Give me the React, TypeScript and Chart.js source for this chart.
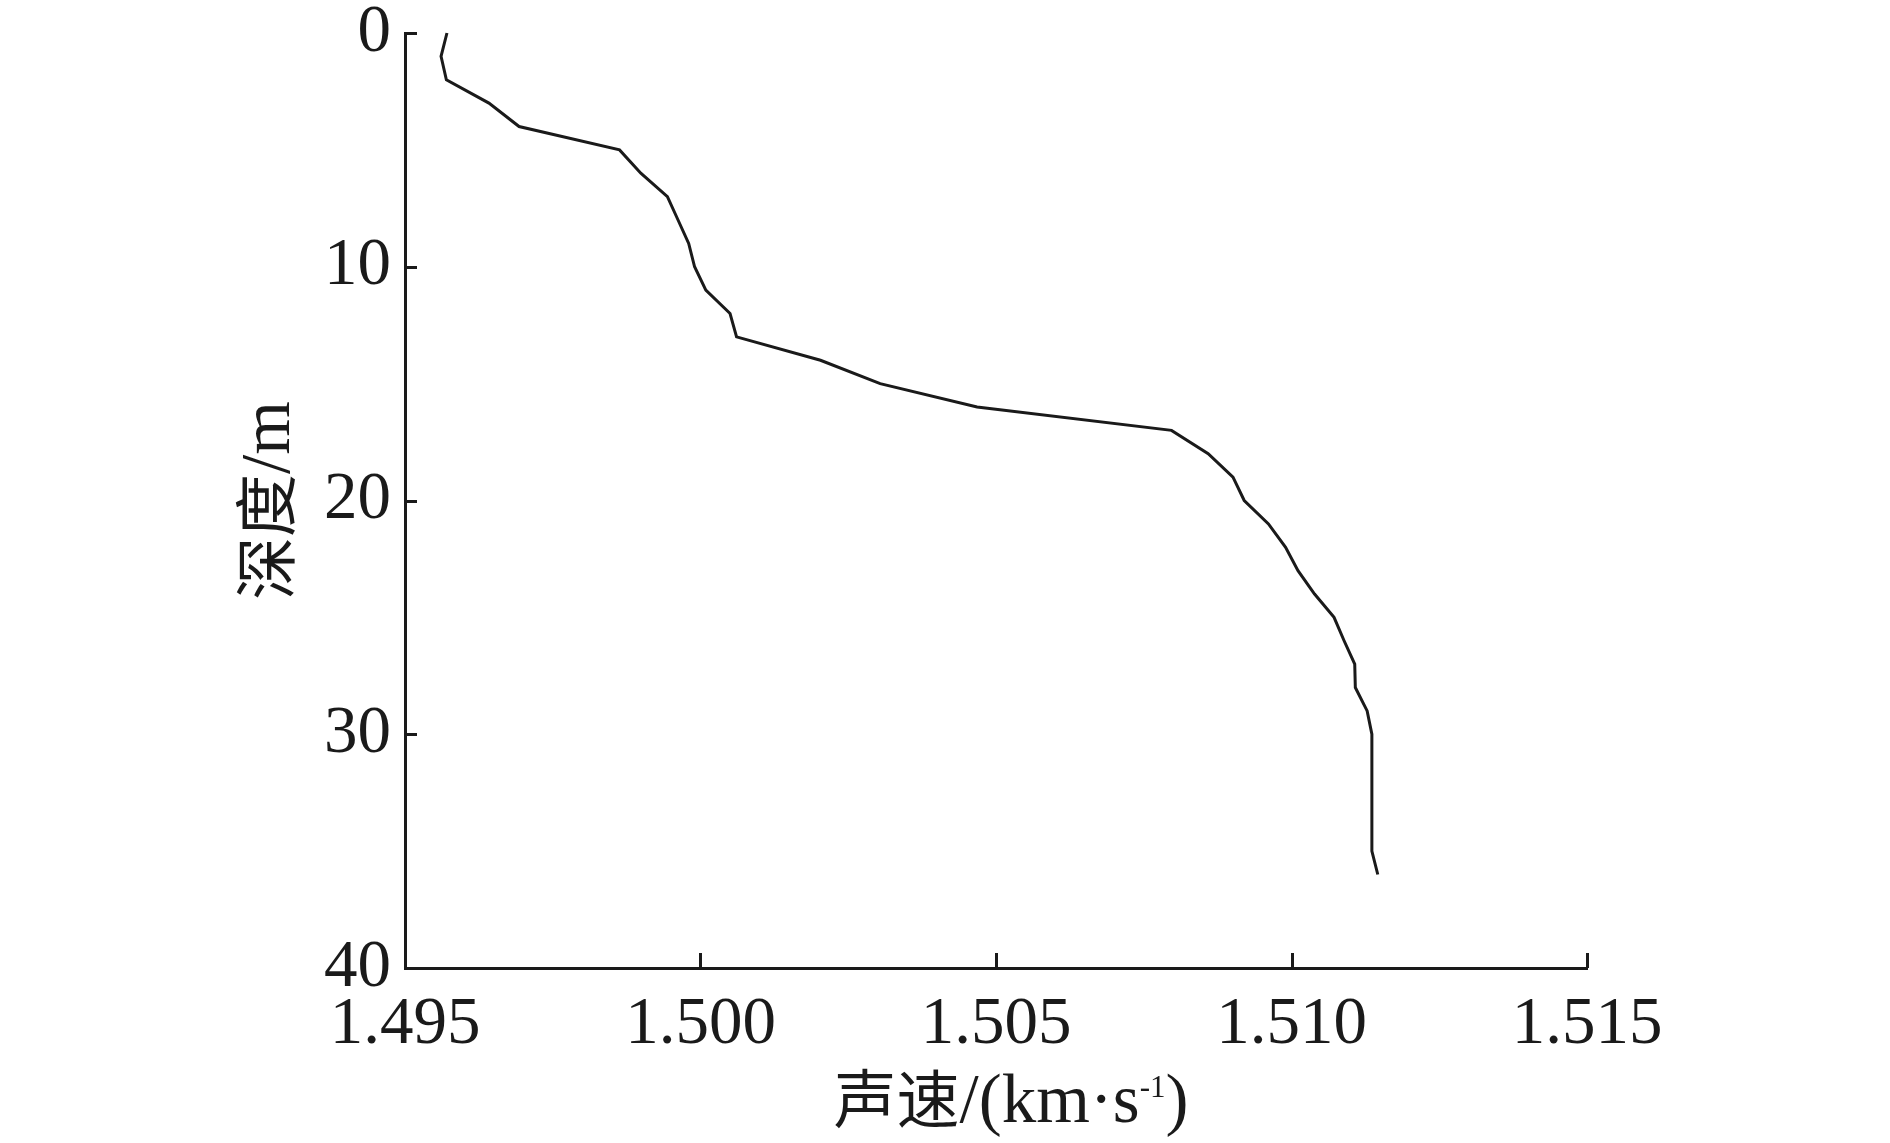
import React, { useEffect, useRef } from "react";
import { Chart, registerables } from "chart.js";

Chart.register(...registerables);

// ---- data ----
const depths = [
  0, 1, 2, 3, 4, 5, 6, 7, 8, 9, 10, 11, 12, 13, 14, 15, 16, 17, 18, 19, 20,
  21, 22, 23, 24, 25, 26, 27, 28, 29, 30, 31, 32, 33, 34, 35, 36,
];
const soundSpeeds = [
  1.49571, 1.49561, 1.4957, 1.49642, 1.49693, 1.49863, 1.49899, 1.49944,
  1.49962, 1.4998, 1.4999, 1.50009, 1.5005, 1.50061, 1.50203, 1.50304,
  1.50468, 1.50797, 1.50859, 1.50901, 1.5092, 1.50961, 1.5099, 1.51011,
  1.51039, 1.51072, 1.51089, 1.51107, 1.51108, 1.51128, 1.51136, 1.51136,
  1.51136, 1.51136, 1.51136, 1.51136, 1.51146,
];
const xTickValues = [1.495, 1.5, 1.505, 1.51, 1.515];
const yTickValues = [0, 10, 20, 30, 40];
const xTitleParts = ["声速", "/(km·s", "-1", ")"];
const yTitleParts = ["深度", "/m"];

const INK = "#1a1a1a";
const LATIN = "'Liberation Serif', 'Times New Roman', serif";
const CJK = "'Noto Sans CJK SC', 'Noto Sans CJK JP', sans-serif";

type Piece = { text: string; font: string; dy: number };

function drawPieces(ctx: CanvasRenderingContext2D, pieces: Piece[], cx: number, baseY: number) {
  let total = 0;
  const widths = pieces.map((p) => {
    ctx.font = p.font;
    const w = ctx.measureText(p.text).width;
    total += w;
    return w;
  });
  let x = cx - total / 2;
  ctx.textAlign = "left";
  ctx.textBaseline = "alphabetic";
  pieces.forEach((p, i) => {
    ctx.font = p.font;
    ctx.fillText(p.text, x, baseY + p.dy);
    x += widths[i];
  });
}

const axisDecor = {
  id: "axisDecor",
  afterDraw(chart: any) {
    const { ctx, chartArea, scales } = chart;
    const xs = scales.x;
    const ys = scales.y;
    ctx.save();
    ctx.strokeStyle = INK;
    ctx.lineWidth = 3;
    ctx.lineCap = "butt";
    xs.ticks.forEach((t: any) => {
      const px = Math.round(xs.getPixelForValue(t.value)) + 0.5;
      if (Math.abs(px - chartArea.left) < 3) return;
      ctx.beginPath();
      ctx.moveTo(px, chartArea.bottom);
      ctx.lineTo(px, chartArea.bottom - 15);
      ctx.stroke();
    });
    ys.ticks.forEach((t: any) => {
      const py = Math.round(ys.getPixelForValue(t.value)) + 0.5;
      if (Math.abs(py - chartArea.bottom) < 3) return;
      ctx.beginPath();
      ctx.moveTo(chartArea.left, py);
      ctx.lineTo(chartArea.left + 12, py);
      ctx.stroke();
    });

    ctx.fillStyle = INK;
    // x-axis title
    const xPieces: Piece[] = [
      { text: xTitleParts[0], font: `63px ${CJK}`, dy: 0 },
      { text: xTitleParts[1], font: `69px ${LATIN}`, dy: 0 },
      { text: xTitleParts[2], font: `31px ${LATIN}`, dy: -25 },
      { text: xTitleParts[3], font: `69px ${LATIN}`, dy: 0 },
    ];
    drawPieces(ctx, xPieces, (chartArea.left + chartArea.right) / 2 + 15, chartArea.bottom + 154);

    // y-axis title (rotated)
    ctx.save();
    ctx.translate(chartArea.left - 116, (chartArea.top + chartArea.bottom) / 2);
    ctx.rotate(-Math.PI / 2);
    const yPieces: Piece[] = [
      { text: yTitleParts[0], font: `63px ${CJK}`, dy: 0 },
      { text: yTitleParts[1], font: `69px ${LATIN}`, dy: 0 },
    ];
    drawPieces(ctx, yPieces, 0, 0);
    ctx.restore();

    ctx.restore();
  },
};

export default function App() {
  const canvasRef = useRef<HTMLCanvasElement | null>(null);

  useEffect(() => {
    if (!canvasRef.current) return;
    const points = depths.map((d, i) => ({ x: soundSpeeds[i], y: d }));
    const tickFont = { family: LATIN, size: 67, lineHeight: 1.2 };
    const chart = new Chart(canvasRef.current, {
      type: "line",
      data: {
        datasets: [
          {
            data: points,
            borderColor: INK,
            borderWidth: 3,
            pointRadius: 0,
            tension: 0,
            fill: false,
            clip: false as any,
          },
        ],
      },
      options: {
        animation: false,
        responsive: true,
        maintainAspectRatio: false,
        parsing: false as any,
        layout: { padding: { left: 0, top: 33, right: 303, bottom: 0 } },
        plugins: {
          legend: { display: false },
          tooltip: { enabled: false },
        },
        scales: {
          x: {
            type: "linear",
            position: "bottom",
            min: 1.495,
            max: 1.515,
            afterBuildTicks: (scale: any) => {
              scale.ticks = xTickValues.map((v) => ({ value: v }));
            },
            afterFit: (scale: any) => {
              scale.height = 175;
              scale.paddingLeft = 0;
              scale.paddingRight = 0;
            },
            ticks: {
              color: INK,
              font: tickFont,
              padding: 17,
              maxRotation: 0,
              autoSkip: false,
              callback: (v: any) => Number(v).toFixed(3),
            },
            grid: { display: true, drawOnChartArea: false, drawTicks: false },
            border: { display: true, color: INK, width: 3 },
          },
          y: {
            type: "linear",
            position: "left",
            reverse: true,
            min: 0,
            max: 40,
            afterBuildTicks: (scale: any) => {
              scale.ticks = yTickValues.map((v) => ({ value: v }));
            },
            afterFit: (scale: any) => {
              scale.width = 405;
              scale.paddingTop = 0;
              scale.paddingBottom = 0;
            },
            ticks: {
              color: INK,
              font: tickFont,
              padding: 14,
              autoSkip: false,
              callback: (v: any) => String(Math.round(Number(v))),
            },
            grid: { display: true, drawOnChartArea: false, drawTicks: false },
            border: { display: true, color: INK, width: 3 },
          },
        },
      },
      plugins: [axisDecor],
    });
    return () => chart.destroy();
  }, []);

  return (
    <div
      style={{
        position: "fixed",
        left: 0,
        top: 0,
        width: 1890,
        height: 1143,
        background: "#ffffff",
      }}
    >
      <canvas ref={canvasRef} />
    </div>
  );
}
